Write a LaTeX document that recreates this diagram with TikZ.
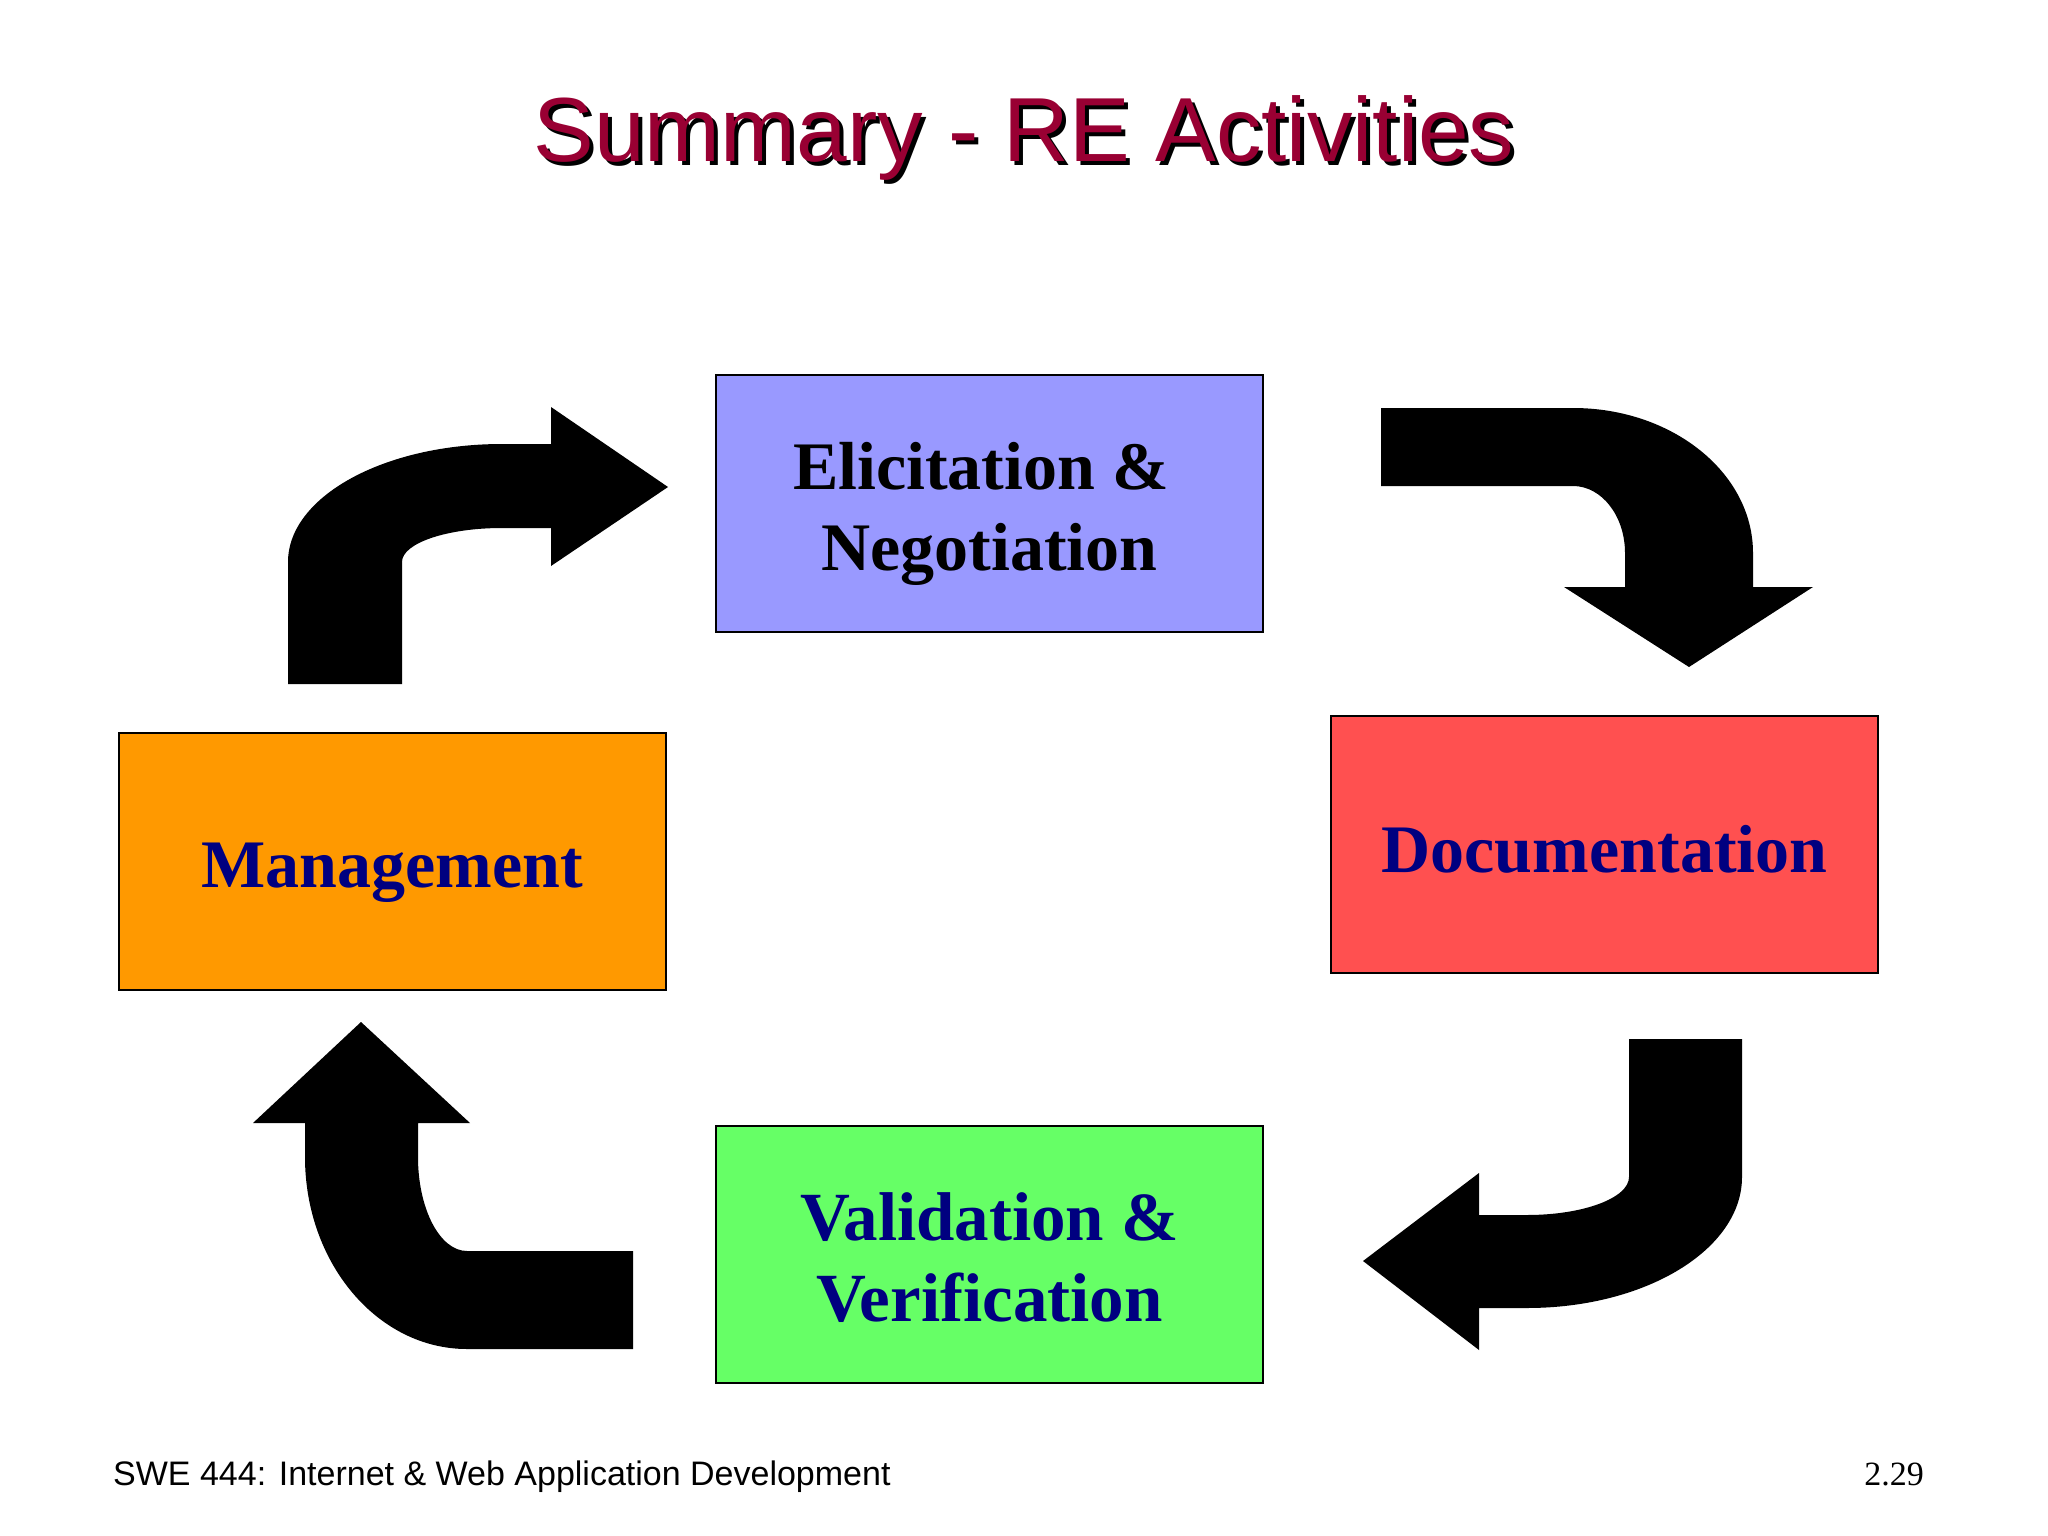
\documentclass[tikz,border=0pt]{standalone}
\usepackage{fontspec}
\setmainfont{Liberation Serif}
\newfontfamily\arialfont{Liberation Sans}
\definecolor{titlered}{RGB}{153,0,51}
\definecolor{boxblue}{RGB}{153,153,255}
\definecolor{boxorange}{RGB}{255,153,0}
\definecolor{boxred}{RGB}{255,80,80}
\definecolor{boxgreen}{RGB}{102,255,102}
\definecolor{navy}{RGB}{0,0,128}
\tikzset{
  actbox/.style={draw=black, line width=2pt, minimum width=547pt, minimum height=257pt, inner sep=0pt},
  boxtext/.style={inner sep=0pt, align=center, font=\fontsize{68}{81}\selectfont\bfseries},
  blockarrow/.style={fill=black, draw=none},
}
\begin{document}
\begin{tikzpicture}[x=1pt,y=-1pt]
\fill[white] (0,0) rectangle (2048,1536);
\useasboundingbox (0,0) rectangle (2048,1536);
% title
\node[anchor=base, inner sep=0pt, font=\arialfont\fontsize{91}{100}\selectfont] (titleshadow) at (1028,165) {Summary - RE Activities};
\node[anchor=base, inner sep=0pt, text=titlered, font=\arialfont\fontsize{91}{100}\selectfont] (title) at (1024,161) {Summary - RE Activities};
% boxes
\node[actbox, fill=boxblue] (elic) at (989.5,503.5) {};
\node[actbox, fill=boxorange] (mgmt) at (392.5,861.5) {};
\node[actbox, fill=boxred] (doc) at (1604.5,844.5) {};
\node[actbox, fill=boxgreen] (val) at (989.5,1254) {};
\node[boxtext, text=black] (elictext) at ([yshift=-10pt]elic.center) {Elicitation \&\hspace*{17pt}\\ Negotiation};
\node[boxtext, text=navy] (mgmttext) at ([yshift=-11pt]mgmt.center) {Management};
\node[boxtext, text=navy] (doctext) at ([yshift=-5pt]doc.center) {Documentation};
\node[boxtext, text=navy, font=\fontsize{69}{81}\selectfont\bfseries] (valtext) at ([yshift=-4pt]val.center) {Validation \&\\ Verification};
% arrow: Management -> Elicitation
\fill[blockarrow] (288,684) -- (288,562) .. controls (288,496.8) and (383.8,444) .. (502,444)
  -- (551,444) -- (551,407) -- (668,487) -- (551,566) -- (551,528) -- (502,528)
  .. controls (446.8,528) and (402,543.2) .. (402,562) -- (402,684) -- cycle;
% arrow: Elicitation -> Documentation
\fill[blockarrow] (1381,408) -- (1573,408) .. controls (1672.4,408) and (1753,472.9) .. (1753,553)
  -- (1753,587) -- (1813,587) -- (1689,667) -- (1564,587) -- (1625,587) -- (1625,553)
  .. controls (1625,516) and (1601.7,486) .. (1573,486) -- (1381,486) -- cycle;
% arrow: Documentation -> Validation
\fill[blockarrow] (1629,1039) -- (1742,1039) -- (1742,1177) .. controls (1742,1249.4) and (1645.7,1308) .. (1527,1308)
  -- (1479,1308) -- (1479,1350) -- (1363,1261) -- (1479,1173) -- (1479,1215) -- (1527,1215)
  .. controls (1583.3,1215) and (1629,1198) .. (1629,1177) -- cycle;
% arrow: Validation -> Management
\fill[blockarrow] (633,1251) -- (467,1251) .. controls (439.9,1251) and (418,1208.9) .. (418,1157)
  -- (418,1123) -- (470,1123) -- (361,1022) -- (253,1123) -- (305,1123) -- (305,1157)
  .. controls (305,1263) and (377.5,1349) .. (467,1349) -- (633,1349) -- cycle;
% footer
\node[anchor=base west, inner sep=0pt, font=\arialfont\fontsize{34}{40}\selectfont] (footer) at (113,1485) {SWE 444: Internet \& Web Application Development};
\node[anchor=base east, inner sep=0pt, font=\fontsize{34}{40}\selectfont] (pagenum) at (1924,1485) {2.29};
\end{tikzpicture}
\end{document}
